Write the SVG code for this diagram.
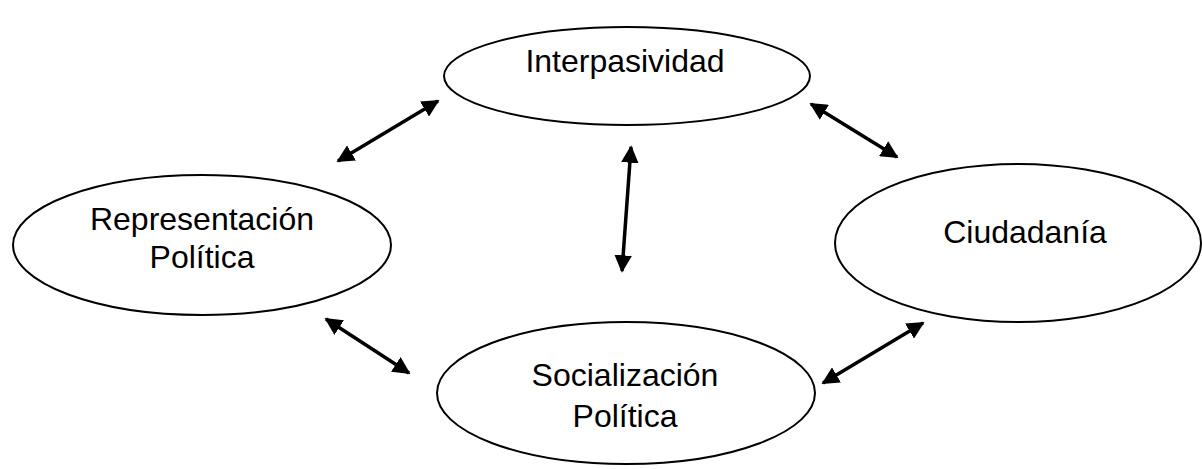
<svg xmlns="http://www.w3.org/2000/svg" width="1202" height="469" viewBox="0 0 1202 469">
<style>
.n{fill:#fff;stroke:#000;stroke-width:2}
.t{font-family:"Liberation Sans",Arial,sans-serif;font-size:32px;fill:#000;text-anchor:middle}
.c{stroke:#000;stroke-width:3.5;fill:none;marker-start:url(#ah);marker-end:url(#ah)}
</style>
<defs>
<marker id="ah" viewBox="0 0 10 10" refX="9" refY="5" markerWidth="5" markerHeight="5" orient="auto-start-reverse" markerUnits="strokeWidth">
<path d="M0,0 L10,5 L0,10 Z" fill="#000"/>
</marker>
</defs>
<rect width="1202" height="469" fill="#fff"/>
<g id="connectors">
<line class="c" x1="338" y1="161" x2="438" y2="101"/>
<line class="c" x1="811" y1="104" x2="897" y2="157"/>
<line class="c" x1="631" y1="147" x2="622" y2="271"/>
<line class="c" x1="326" y1="319" x2="409" y2="373"/>
<line class="c" x1="923" y1="323" x2="823" y2="383"/>
</g>
<g id="interpasividad">
<ellipse class="n" cx="627" cy="76" rx="183" ry="49"/>
<text class="t" x="625" y="72">Interpasividad</text>
</g>
<g id="representacion">
<ellipse class="n" cx="202" cy="245" rx="189" ry="70"/>
<text class="t" x="202" y="230">Representación</text>
<text class="t" x="202" y="268">Política</text>
</g>
<g id="ciudadania">
<ellipse class="n" cx="1018" cy="243" rx="183" ry="79"/>
<text class="t" x="1025" y="243">Ciudadanía</text>
</g>
<g id="socializacion">
<ellipse class="n" cx="626" cy="393" rx="189" ry="71"/>
<text class="t" x="625" y="386">Socialización</text>
<text class="t" x="625" y="427">Política</text>
</g>
</svg>
